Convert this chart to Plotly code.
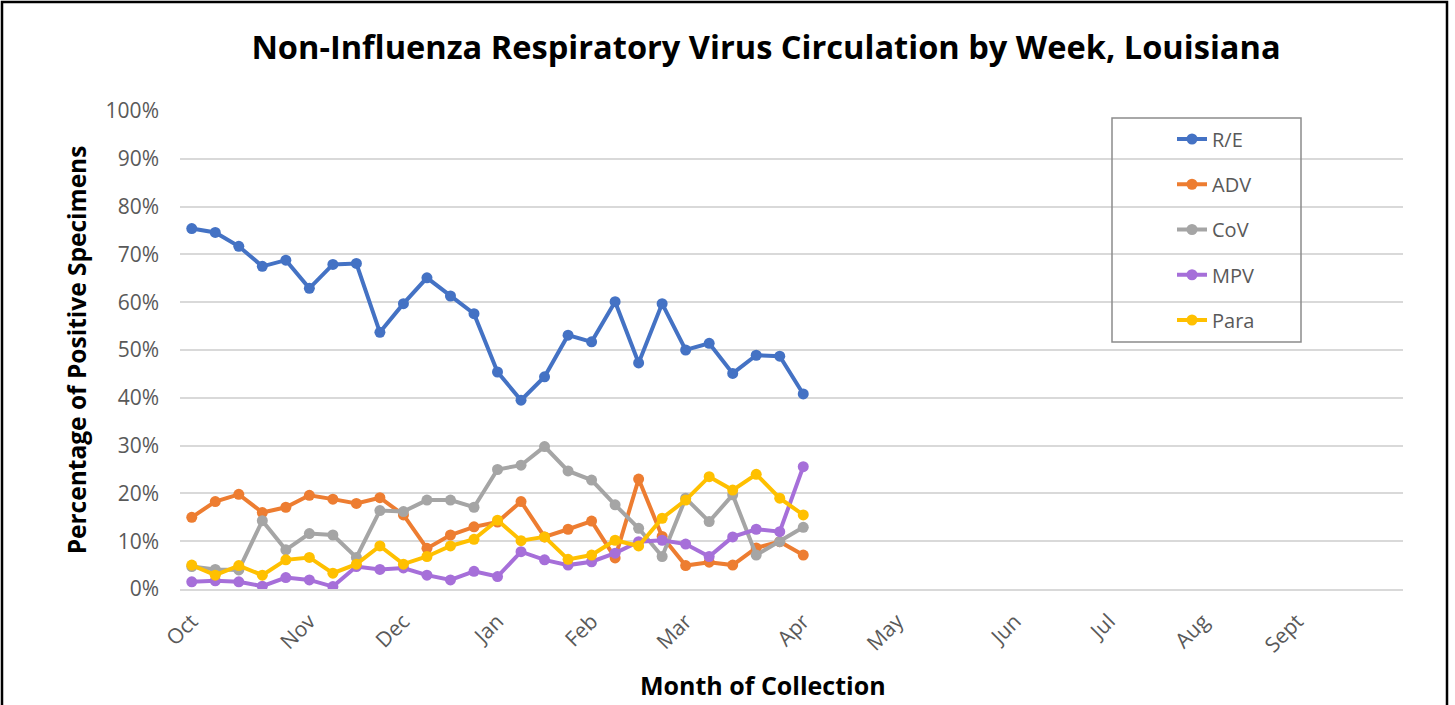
import plotly.graph_objects as go

# MMWR weeks, October through September (52 categories)
weeks = ["40", "41", "42", "43", "44", "45", "46", "47", "48", "49", "50", "51", "52",
         "1", "2", "3", "4", "5", "6", "7", "8", "9", "10", "11", "12", "13",
         "14", "15", "16", "17", "18", "19", "20", "21", "22", "23", "24", "25", "26",
         "27", "28", "29", "30", "31", "32", "33", "34", "35", "36", "37", "38", "39"]

month_tick_weeks = ["40", "45", "49", "1", "5", "9", "14", "18", "23", "27", "31", "35"]
month_labels = ["Oct", "Nov", "Dec", "Jan", "Feb", "Mar", "Apr", "May", "Jun", "Jul", "Aug", "Sept"]

re_vals = [75.4, 74.6, 71.7, 67.5, 68.8, 62.9, 67.9, 68.1, 53.7, 59.7, 65.1, 61.3, 57.6,
           45.4, 39.5, 44.4, 53.1, 51.7, 60.1, 47.3, 59.7, 50.0, 51.4, 45.1, 48.9, 48.7, 40.8]
adv_vals = [15.0, 18.3, 19.8, 16.0, 17.1, 19.6, 18.8, 17.9, 19.1, 15.5, 8.5, 11.3, 13.0,
            14.0, 18.3, 10.9, 12.5, 14.2, 6.5, 23.0, 11.0, 4.9, 5.6, 5.0, 8.6, 9.9, 7.1]
cov_vals = [4.7, 4.1, 4.0, 14.3, 8.2, 11.6, 11.3, 6.6, 16.4, 16.2, 18.6, 18.6, 17.1,
            25.0, 25.9, 29.8, 24.7, 22.8, 17.6, 12.7, 6.8, 19.0, 14.1, 19.7, 7.1, 9.9, 12.9]
mpv_vals = [1.5, 1.7, 1.5, 0.6, 2.4, 1.9, 0.5, 4.7, 4.1, 4.4, 2.9, 1.9, 3.7,
            2.6, 7.8, 6.1, 5.0, 5.7, 7.5, 9.9, 10.2, 9.4, 6.8, 10.9, 12.5, 12.0, 25.6]
para_vals = [5.0, 2.9, 4.9, 2.9, 6.1, 6.6, 3.3, 5.2, 9.0, 5.2, 6.8, 9.0, 10.4,
             14.4, 10.1, 10.9, 6.2, 7.1, 10.2, 9.0, 14.8, 18.6, 23.5, 20.7, 24.0, 19.0, 15.5]

series = [
    ("R/E", re_vals, "#4472C4"),
    ("ADV", adv_vals, "#ED7D31"),
    ("CoV", cov_vals, "#A5A5A5"),
    ("MPV", mpv_vals, "#A66FD9"),
    ("Para", para_vals, "#FFC000"),
]

FONT = "Open Sans"

fig = go.Figure()
for name, vals, color in series:
    fig.add_trace(go.Scatter(
        x=weeks[:len(vals)], y=vals, name=name, legendgroup=name,
        mode="lines+markers",
        line=dict(color=color, width=4),
        marker=dict(color=color, size=11),
    ))

W, H = 1455, 705
L, R, T, B = 180, 1403, 111, 589
pw, ph = R - L, B - T


def px(x):
    return (x - L) / pw


def py(y):
    return (B - y) / ph


LEG_FONT = 20
item_h = LEG_FONT * 1.3 + 3
leg_top = 139 - 5 - item_h / 2

fig.update_layout(
    width=W, height=H,
    margin=dict(l=L, r=W - R, t=T, b=H - B),
    paper_bgcolor="white", plot_bgcolor="white",
    font=dict(family=FONT, color="#595959"),
    title=dict(text="<b>Non-Influenza Respiratory Virus Circulation by Week, Louisiana</b>",
               x=766 / W, xanchor="center", y=1 - 48 / H, yanchor="middle",
               font=dict(family=FONT, size=32.6, color="black")),
    xaxis=dict(type="category", categoryorder="array", categoryarray=weeks,
               range=[-0.5, 51.5], tickmode="array", tickvals=month_tick_weeks,
               ticktext=month_labels, tickangle=-45, showgrid=False, zeroline=False,
               showline=True, linecolor="#D9D9D9", linewidth=1.5,
               tickfont=dict(size=21, color="#595959"), ticklabelstandoff=10),
    yaxis=dict(range=[0, 100], dtick=10, ticksuffix="%", showgrid=True,
               gridcolor="#D9D9D9", gridwidth=1.5, zeroline=False,
               tickfont=dict(size=21, color="#595959"), ticklabelstandoff=20,
               title=dict(text="<b>Percentage of Positive Specimens</b>", standoff=12,
                          font=dict(size=24.5, color="black"))),
    showlegend=True,
    legend=dict(x=px(1172), y=py(leg_top), xanchor="left", yanchor="top",
                bgcolor="rgba(0,0,0,0)", borderwidth=0,
                tracegroupgap=45.25 - item_h,
                font=dict(size=LEG_FONT, color="#595959"), itemclick=False),
    annotations=[
        dict(text="<b>Month of Collection</b>", xref="paper", yref="paper",
             x=px(763), y=py(685), xanchor="center", yanchor="middle",
             showarrow=False, font=dict(size=25, color="black", family=FONT)),
    ],
    shapes=[
        dict(type="rect", xref="paper", yref="paper",
             x0=px(1112), x1=px(1301), y0=py(342), y1=py(118),
             line=dict(color="#8C8C8C", width=1.5), fillcolor="rgba(0,0,0,0)"),
        dict(type="rect", xref="paper", yref="paper",
             x0=px(2), x1=px(1447), y0=py(730), y1=py(2),
             line=dict(color="black", width=2.5), fillcolor="rgba(0,0,0,0)"),
    ],
)

fig.write_html("out.html", config={"displayModeBar": False},
               post_script="document.body.style.margin='0px';")
